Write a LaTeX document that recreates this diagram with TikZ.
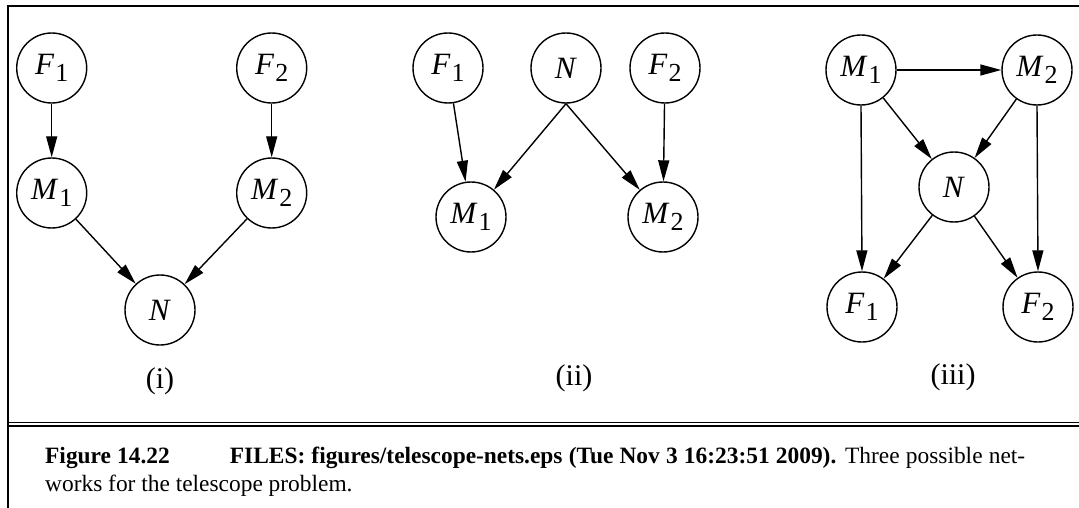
\documentclass[tikz,border=0pt]{standalone}
\usepackage{fontspec}
\setmainfont{Liberation Serif}
\usetikzlibrary{arrows.meta}
\newcommand\nlab[2]{\textit{#1}\kern1pt\raisebox{-7pt}{\fontsize{26}{26}\selectfont #2}}
\begin{document}
\begin{tikzpicture}[x=1pt,y=-1pt,
  var/.style={circle,draw,line width=1.4pt,minimum size=70pt,inner sep=0pt,font=\fontsize{31}{34}\selectfont},
  arr/.style={line width=1.4pt,-{Triangle[length=21pt,width=11pt]}},
  framel/.style={line width=2pt},
  dbl/.style={line width=1.7pt},
  lab/.style={font=\fontsize{30}{34}\selectfont,anchor=base,inner sep=0pt},
  capt/.style={font=\fontsize{23.4}{28}\selectfont,anchor=base west,inner sep=0pt}]
\useasboundingbox (0,0) rectangle (1079,508);
% frame
\draw[framel] (8,508) -- (8,6) -- (1080,6);
\draw[dbl] (8,422.5) -- (1080,422.5);
\draw[dbl] (8,426.2) -- (1080,426.2);
% panel (i)
\node[var] (aF1) at (51.7,68) {\nlab{F}{1}};
\node[var] (aF2) at (271.7,68) {\nlab{F}{2}};
\node[var] (aM1) at (51.7,193) {\nlab{M}{1}};
\node[var] (aM2) at (271.7,193) {\nlab{M}{2}};
\node[var] (aN) at (160,310) {\textit{N}};
\draw[arr] (aF1) -- (aM1);
\draw[arr] (aF2) -- (aM2);
\draw[arr] (aM1) -- (aN);
\draw[arr] (aM2) -- (aN);
\node[lab] (li) at (160,388) {(i)};
% panel (ii)
\node[var] (bF1) at (448,68) {\nlab{F}{1}};
\node[var] (bN) at (566,68) {\textit{N}};
\node[var] (bF2) at (665,68) {\nlab{F}{2}};
\node[var] (bM1) at (471,217) {\nlab{M}{1}};
\node[var] (bM2) at (663,217) {\nlab{M}{2}};
\draw[arr] (bF1) -- (bM1);
\draw[arr] (bN.south) -- (bM1);
\draw[arr] (bN.south) -- (bM2);
\draw[arr] (bF2) -- (bM2);
\node[lab] (lii) at (574,385) {(ii)};
% panel (iii)
\node[var] (cM1) at (861,70) {\nlab{M}{1}};
\node[var] (cM2) at (1037,70) {\nlab{M}{2}};
\node[var] (cN) at (954,187) {\textit{N}};
\node[var] (cF1) at (862,307) {\nlab{F}{1}};
\node[var] (cF2) at (1038,307) {\nlab{F}{2}};
\draw[arr] (cM1) -- (cM2);
\draw[arr] (cM1.south) -- (cF1.north);
\draw[arr] (cM2.south) -- (cF2.north);
\draw[arr] (cM1) -- (cN);
\draw[arr] (cM2) -- (cN);
\draw[arr] (cN) -- (cF1);
\draw[arr] (cN) -- (cF2);
\node[lab] (liii) at (953,384) {(iii)};
% caption
\node[capt] (cap1) at (45,463) {\makebox[980pt][s]{\textbf{Figure 14.22}\hspace{60pt}\textbf{FILES: figures/telescope-nets.eps (Tue Nov 3 16:23:51 2009).} Three possible net-}};
\node[capt] (cap2) at (45,491) {works for the telescope problem.};
\end{tikzpicture}
\end{document}
